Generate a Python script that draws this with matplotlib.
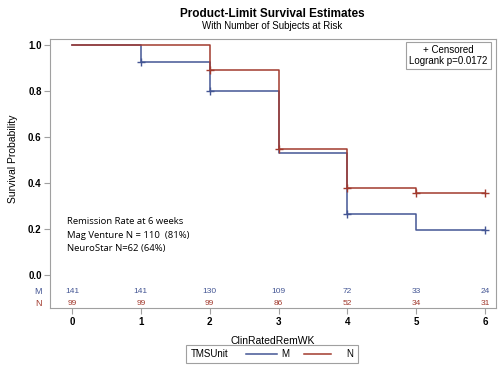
import matplotlib.pyplot as plt
from matplotlib.lines import Line2D
from matplotlib.offsetbox import AnchoredOffsetbox, HPacker, TextArea, DrawingArea

plt.rcParams['font.family'] = ['Liberation Sans', 'DejaVu Sans']

# data
weeks = [0, 1, 2, 3, 4, 5, 6]
surv_m = [1.0, 0.926, 0.80, 0.529, 0.265, 0.193, 0.193]
surv_n = [1.0, 1.0, 0.89, 0.547, 0.378, 0.357, 0.357]
cens_m_t = [1, 2, 4, 6]
cens_m_s = [0.926, 0.80, 0.265, 0.193]
cens_n_t = [2, 3, 4, 5, 6]
cens_n_s = [0.89, 0.547, 0.378, 0.357, 0.357]
risk_m = [141, 141, 130, 109, 72, 33, 24]
risk_n = [99, 99, 99, 86, 52, 34, 31]

blue = '#445694'
red = '#A23A2E'
gray = '#a0a0a0'

fig = plt.figure(figsize=(5, 3.74), dpi=100)
ax = fig.add_axes([0.1, 0.1757, 0.892, 0.72])

ax.step(weeks, surv_m, where='post', color=blue, lw=1.1)
ax.step(weeks, surv_n, where='post', color=red, lw=1.1)
ax.plot(cens_m_t, cens_m_s, ls='none', marker='+', ms=6, mew=1.0, color=blue)
ax.plot(cens_n_t, cens_n_s, ls='none', marker='+', ms=6, mew=1.0, color=red)

ax.set_xlim(-0.32, 6.16)
ax.set_ylim(-0.146, 1.025)
ax.set_xticks(weeks)
ax.set_yticks([0.0, 0.2, 0.4, 0.6, 0.8, 1.0])
ax.set_yticklabels(['0.0', '0.2', '0.4', '0.6', '0.8', '1.0'])
ax.tick_params(axis='both', colors=gray, labelcolor='black', labelsize=7, length=4, width=0.8, pad=2)
for lab in ax.get_xticklabels() + ax.get_yticklabels():
    lab.set_fontweight('bold')
for sp in ax.spines.values():
    sp.set_color(gray)
    sp.set_linewidth(0.8)

# number at risk rows
for t, m, n in zip(weeks, risk_m, risk_n):
    ax.text(t, -0.075, str(m), color=blue, fontsize=6, ha='center', va='center')
    ax.text(t, -0.127, str(n), color=red, fontsize=6, ha='center', va='center')
ax.text(-0.49, -0.075, 'M', color=blue, fontsize=6.5, ha='center', va='center', clip_on=False)
ax.text(-0.49, -0.127, 'N', color=red, fontsize=6.5, ha='center', va='center', clip_on=False)

ax.set_xlabel('ClinRatedRemWK', fontsize=7.5, labelpad=7)
ax.set_ylabel('Survival Probability', fontsize=7.5)
ax.yaxis.set_label_coords(-0.072, 0.555)

ax.text(0.8935, 0.9387, '+ Censored\nLogrank p=0.0172', transform=ax.transAxes,
        ha='center', va='center', multialignment='center', fontsize=7,
        bbox=dict(boxstyle='square,pad=0.3', fc='white', ec=gray, lw=0.8))

ax.text(-0.08, 0.172, 'Remission Rate at 6 weeks\nMag Venture N = 110  (81%)\nNeuroStar N=62 (64%)',
        fontsize=6.8, family='Open Sans', ha='left', va='center', linespacing=1.62)

fig.text(0.544, 0.963, 'Product-Limit Survival Estimates', ha='center', va='center',
         fontsize=8.5, fontweight='bold')
fig.text(0.544, 0.93, 'With Number of Subjects at Risk', ha='center', va='center', fontsize=7)


def swatch(color, w):
    da = DrawingArea(w, 6)
    da.add_artist(Line2D([0, w], [3, 3], color=color, lw=1.1))
    return da


txt = dict(fontsize=7)
box = HPacker(children=[TextArea('TMSUnit', textprops=txt), DrawingArea(6, 6), swatch(blue, 22),
                        TextArea('M', textprops=txt), DrawingArea(3, 6), swatch(red, 20),
                        DrawingArea(4, 6), TextArea('N', textprops=txt)],
              align='center', pad=0, sep=3.5)
leg = AnchoredOffsetbox(loc='center', child=box, pad=0.3, frameon=True, borderpad=0,
                        bbox_to_anchor=(0.544, 0.0535), bbox_transform=fig.transFigure)
leg.patch.set_edgecolor(gray)
leg.patch.set_linewidth(0.8)
fig.add_artist(leg)

fig.savefig('out.png', dpi=100)
